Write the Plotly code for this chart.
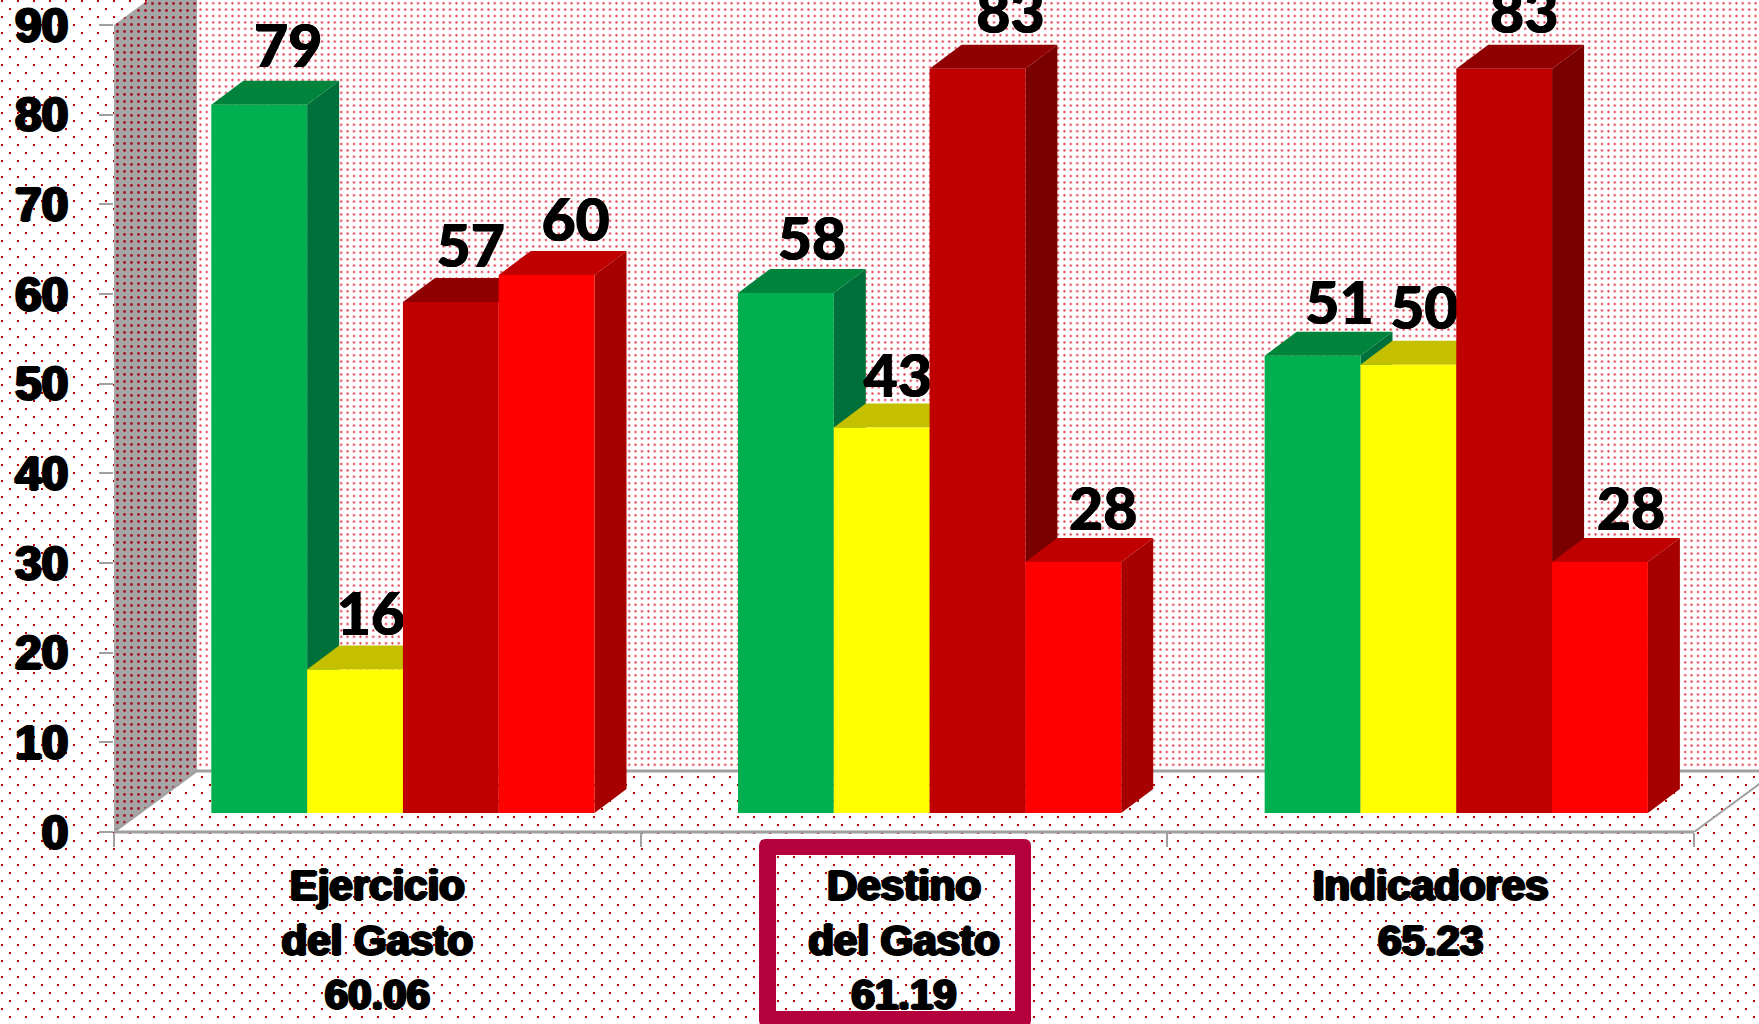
import plotly.graph_objects as go

# ---- data ----
categories = ["Ejercicio<br>del Gasto<br>60.06", "Destino<br>del Gasto<br>61.19", "Indicadores<br>65.23"]
verde = [79, 58, 51]
amarillo = [16, 43, 50]
rojo_oscuro = [57, 83, 83]
rojo = [60, 28, 28]
y_ticks = [0, 10, 20, 30, 40, 50, 60, 70, 80, 90]

# ---- geometry (pixels of the 1759x1024 page) ----
W, H = 1759, 1024
L, R, T, B = 114, 1694, 25, 832          # tick frame
PXX = (R - L) / 3                        # px per category
PXY = (B - T) / 90                       # px per value unit
DX, DY = 32 / PXX, 24 / PXY              # bar depth, in data units
WALL_DX, WALL_DY = 83 / PXX, 61 / PXY    # wall depth, in data units
BASE = 19 / PXY                          # bar foot above the axis
BAR_W = 95.8 / PXX
FIRST = -166 / PXX                       # first bar, relative to category centre
XMIN, XMAX = -0.5, 2.5
PAGE_R = XMIN + (W - L) / PXX
PAGE_T = 90 + T / PXY

series = [
    ("Verde", verde, "#00B050", "#00703A", "#00843C"),
    ("Amarillo", amarillo, "#FFFF00", "#A6A600", "#C4C000"),
    ("Rojo oscuro", rojo_oscuro, "#C00000", "#7A0000", "#900000"),
    ("Rojo", rojo, "#FF0000", "#A60000", "#C00000"),
]
# label placement: px right of the face centre, px above the face top (series x category)
LABEL_DX = [[29, 26, 27], [16, 16, 16], [20, 33, 20], [29, 30, 31]]
LABEL_DY = [[52, 48, 46], [49, 45, 50], [50, 51, 51], [49, 47, 47]]

STROKE2 = "1.6px 0 0 #000, -1.6px 0 0 #000, 0 1px 0 #000, 0 -1px 0 #000"
STROKE1 = "0.5px 0 0 #000, -0.5px 0 0 #000"
CAT_FONT = dict(family="Liberation Sans", size=42, color="black", weight=700, shadow=STROKE2)
TICK_FONT = dict(family="Liberation Sans", size=48, color="black", weight=700, shadow=STROKE2)
LBL = dict(family="Lato", size=59, color="black", weight=900, shadow=STROKE1)
GRAY = "#A0A0A0"

def px_x(p):
    return (p - L) / (W - L)

def px_y(p):
    return (B - p) / B

fig = go.Figure()

# back wall, side wall
fig.add_trace(go.Scatter(
    x=[XMIN + WALL_DX, PAGE_R, PAGE_R, XMIN + WALL_DX, XMIN + WALL_DX],
    y=[WALL_DY, WALL_DY, PAGE_T, PAGE_T, WALL_DY],
    mode="lines", line=dict(width=0), fill="toself", fillcolor="white",
    fillpattern=dict(shape=".", size=6.4, solidity=0.1, fgcolor="#E02C3C", bgcolor="white", fillmode="replace"),
    hoverinfo="skip", showlegend=False))
fig.add_trace(go.Scatter(
    x=[XMIN, XMIN + WALL_DX, XMIN + WALL_DX, XMIN, XMIN],
    y=[0, WALL_DY, 90 + WALL_DY, 90, 0],
    mode="lines", line=dict(width=0), fill="toself", fillcolor="#A6A6A6",
    fillpattern=dict(shape=".", size=7, solidity=0.14, fgcolor="#A01828", bgcolor="#A6A6A6", fillmode="replace"),
    hoverinfo="skip", showlegend=False))

# floor edges
fig.add_trace(go.Scatter(x=[XMIN + WALL_DX, PAGE_R], y=[WALL_DY, WALL_DY], mode="lines",
                         line=dict(color=GRAY, width=3), hoverinfo="skip", showlegend=False))
fig.add_trace(go.Scatter(x=[XMAX, XMAX + WALL_DX], y=[0, WALL_DY], mode="lines",
                         line=dict(color=GRAY, width=2), hoverinfo="skip", showlegend=False))

# depth faces of the bars, from the values
for c in range(len(categories)):
    for s, (name, vals, face, side, top) in enumerate(series):
        xl = c + FIRST + s * BAR_W
        xr = xl + BAR_W
        t = BASE + vals[c]
        fig.add_trace(go.Scatter(
            x=[xr, xr + DX, xr + DX, xr, xr], y=[t, t + DY, BASE + DY, BASE, t],
            mode="lines", line=dict(width=0), fill="toself", fillcolor=side,
            hoverinfo="skip", showlegend=False))
        fig.add_trace(go.Scatter(
            x=[xl, xl + DX, xr + DX, xr, xl], y=[t, t + DY, t + DY, t, t],
            mode="lines", line=dict(width=0), fill="toself", fillcolor=top,
            hoverinfo="skip", showlegend=False))

# value labels
for s, (name, vals, face, side, top) in enumerate(series):
    fig.add_trace(go.Scatter(
        x=[c + FIRST + (s + 0.5) * BAR_W + LABEL_DX[s][c] / PXX for c in range(len(categories))],
        y=[BASE + v + LABEL_DY[s][c] / PXY for c, v in enumerate(vals)],
        text=[str(v) for v in vals], mode="text", textposition="middle center",
        textfont=LBL, hoverinfo="skip", showlegend=False, cliponaxis=False))

# front faces: real bars on the overlaying category axis
for s, (name, vals, face, side, top) in enumerate(series):
    fig.add_trace(go.Bar(
        x=categories, y=vals, base=BASE, name=name, marker=dict(color=face, line=dict(width=0)),
        width=BAR_W, offset=FIRST + s * BAR_W, xaxis="x2", yaxis="y2", showlegend=False))

# page texture
dots = ("<svg xmlns='http://www.w3.org/2000/svg' width='%d' height='%d'>"
        "<defs><pattern id='p' width='16' height='16' patternUnits='userSpaceOnUse'>"
        "<rect width='16' height='16' fill='white'/>"
        "<rect x='1' y='0' width='2' height='2' fill='#B80000'/>"
        "<rect x='9' y='8' width='2' height='2' fill='#B80000'/>"
        "</pattern></defs><rect width='100%%' height='100%%' fill='url(#p)'/></svg>" % (W, H))
src = "data:image/svg+xml," + dots.replace("#", "%23").replace("<", "%3C").replace(">", "%3E")

# rounded highlight frame (outer ring + inner hole)
ox0, ox1, oy0, oy1 = 759, 1031, 839, 1027
ix0, ix1, iy0, iy1 = 776, 1015, 855, 1011
r = 7
def P(x, y):
    return f"{px_x(x):.5f},{px_y(y):.5f}"
frame = (f"M{P(ox0+r,oy0)} L{P(ox1-r,oy0)} Q{P(ox1,oy0)} {P(ox1,oy0+r)} L{P(ox1,oy1-r)} Q{P(ox1,oy1)} {P(ox1-r,oy1)} "
         f"L{P(ox0+r,oy1)} Q{P(ox0,oy1)} {P(ox0,oy1-r)} L{P(ox0,oy0+r)} Q{P(ox0,oy0)} {P(ox0+r,oy0)} Z "
         f"M{P(ix0,iy0)} L{P(ix0,iy1)} L{P(ix1,iy1)} L{P(ix1,iy0)} Z")

fig.update_layout(
    width=W, height=H, autosize=False,
    margin=dict(l=L, r=0, t=0, b=H - B, pad=0, autoexpand=False),
    paper_bgcolor="white", plot_bgcolor="rgba(0,0,0,0)",
    showlegend=False, barmode="overlay",
    images=[dict(source=src, xref="paper", yref="paper", x=px_x(0), y=px_y(0),
                 sizex=W / (W - L), sizey=H / B, xanchor="left", yanchor="top",
                 sizing="stretch", layer="below")],
    shapes=[
        dict(type="path", xref="paper", yref="paper", path=frame,
             fillcolor="#B4003C", line=dict(width=0), layer="above"),
        dict(type="line", xref="x", yref="paper", x0=XMIN, x1=XMAX, y0=0, y1=0,
             line=dict(color=GRAY, width=3), layer="above"),
        dict(type="line", xref="paper", yref="paper", x0=px_x(L), x1=px_x(L + 83), y0=0, y1=px_y(B - 61),
             line=dict(color=GRAY, width=2), layer="above"),
    ],
    xaxis=dict(type="linear", range=[XMIN, PAGE_R], visible=False, fixedrange=True),
    yaxis=dict(range=[0, PAGE_T], tickvals=y_ticks, showgrid=False, zeroline=False, showline=False,
               ticks="outside", ticklen=14, tickwidth=2, tickcolor=GRAY, ticklabeloverflow="allow",
               tickfont=TICK_FONT, ticklabelstandoff=21, fixedrange=True),
    xaxis2=dict(type="category", categoryorder="array", categoryarray=categories,
                range=[XMIN, PAGE_R], overlaying="x", anchor="y2", side="bottom",
                tickson="boundaries", ticks="outside", ticklen=14, tickwidth=2, tickcolor=GRAY,
                showline=False, showgrid=False, ticklabeloverflow="allow",
                tickfont=CAT_FONT, ticklabelstandoff=25, fixedrange=True),
    yaxis2=dict(range=[0, PAGE_T], overlaying="y", anchor="x2", visible=False, fixedrange=True),
)

fig.write_html("out.html", config=dict(displayModeBar=False, responsive=False),
               post_script="document.body.style.margin='0';document.documentElement.style.overflow='hidden';")
